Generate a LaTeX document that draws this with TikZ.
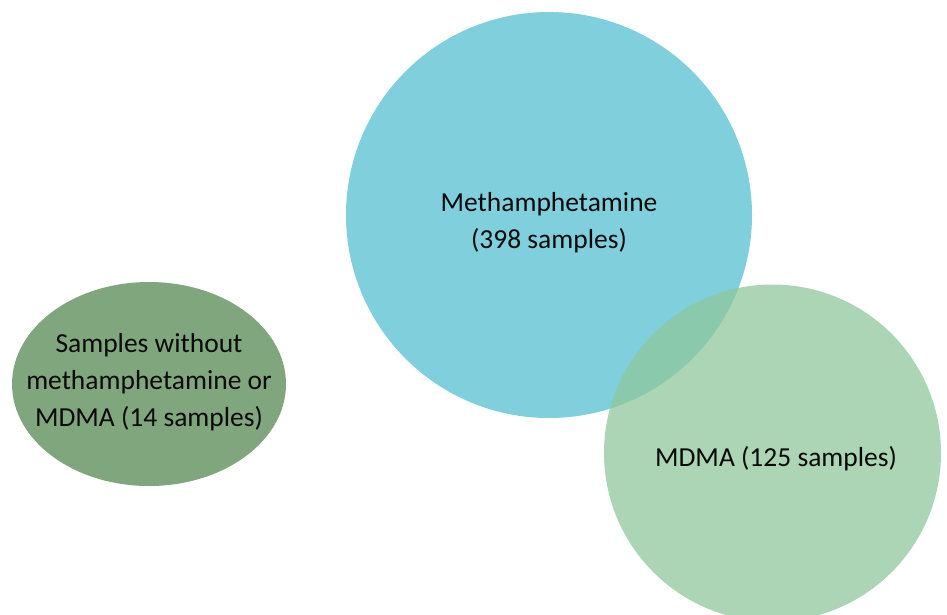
\documentclass[tikz,border=0pt]{standalone}
\usepackage{fontspec}
\setmainfont{Carlito}
\definecolor{methblue}{RGB}{127,208,220}
\definecolor{mdmagreen}{RGB}{143,199,156}
\definecolor{nonegreen}{RGB}{128,166,126}
\definecolor{txt}{RGB}{10,10,10}
\begin{document}
\begin{tikzpicture}[x=1pt,y=-1pt,
  lbl/.style={align=center,font=\fontsize{27.5}{37}\selectfont,text=txt,inner sep=0pt}]
\useasboundingbox (0,0) rectangle (947,614);
\begin{scope}
\clip (0,0) rectangle (947,614);
\fill[methblue] (549,215) circle (203);
\fill[mdmagreen,fill opacity=0.75] (772.5,453) circle (168.5);
\fill[nonegreen] (149,384) ellipse (137 and 102);
\end{scope}
\node[lbl] (meth) at (549,223) {Methamphetamine\\(398 samples)};
\node[lbl] (mdma) at (776,459) {MDMA (125 samples)};
\node[lbl] (none) at (149,382) {Samples without\\methamphetamine or\\MDMA (14 samples)};
\end{tikzpicture}
\end{document}
